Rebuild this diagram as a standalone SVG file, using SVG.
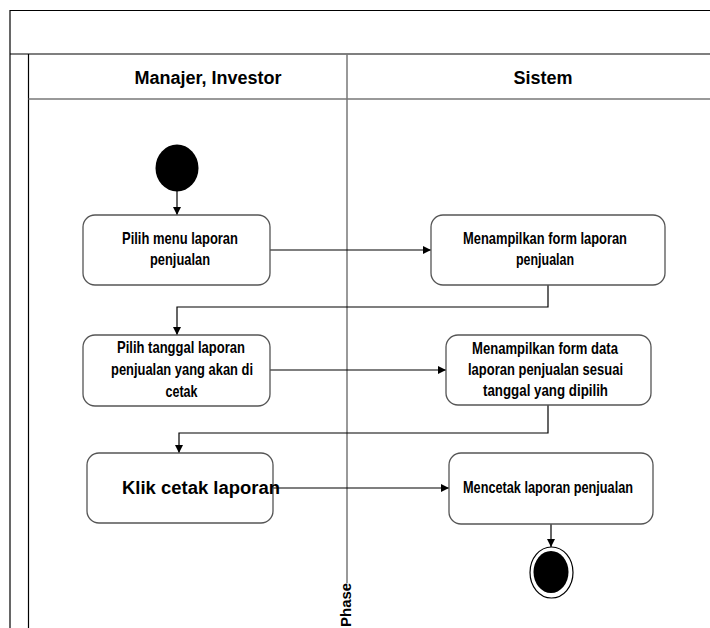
<svg xmlns="http://www.w3.org/2000/svg" width="710" height="628" viewBox="0 0 710 628">
  <defs>
    <style>
      .frame { stroke: #000; stroke-width: 1.2; fill: none; }
      .lane { stroke: #777; stroke-width: 1.5; fill: none; }
      .act { fill: #fff; stroke: #555; stroke-width: 1.3; }
      .lbl { font-family: "Liberation Sans Narrow", "Liberation Sans", Arial, sans-serif; font-weight: bold; font-size: 17px; fill: #000; text-anchor: middle; }
      .hdr { font-family: "Liberation Sans", Arial, sans-serif; font-weight: bold; font-size: 18px; fill: #000; text-anchor: middle; }
      .flow { stroke: #000; stroke-width: 1.2; fill: none; marker-end: url(#arrow); }
    </style>
    <marker id="arrow" viewBox="0 0 10 10" refX="10" refY="5" markerWidth="8" markerHeight="8" markerUnits="userSpaceOnUse" orient="auto">
      <path d="M0,0 L10,5 L0,10 z" fill="#000"/>
    </marker>
  </defs>

  <!-- pool frame and swimlanes -->
  <g id="pool">
    <line class="frame" x1="10" y1="10.5" x2="710" y2="10.5"/>
    <line class="frame" x1="10" y1="10" x2="10" y2="628"/>
    <line class="frame" x1="10" y1="54" x2="710" y2="54"/>
    <line class="frame" x1="28.5" y1="54" x2="28.5" y2="628"/>
    <line class="lane" x1="28.5" y1="99" x2="710" y2="99"/>
    <line class="lane" x1="347" y1="54" x2="347" y2="583"/>
    <text class="hdr" x="208" y="84">Manajer, Investor</text>
    <text class="hdr" x="543" y="84">Sistem</text>
    <text font-family="Liberation Sans, Arial, sans-serif" font-weight="bold" font-size="15" transform="translate(350.5,627) rotate(-90)">Phase</text>
  </g>

  <!-- connectors -->
  <g id="connectors">
    <line class="flow" x1="177" y1="191" x2="177" y2="215"/>
    <line class="flow" x1="270" y1="250" x2="431" y2="250"/>
    <polyline class="flow" points="548,285 548,307 177,307 177,335"/>
    <line class="flow" x1="270" y1="370" x2="446" y2="370"/>
    <polyline class="flow" points="548,405 548,433 179,433 179,453"/>
    <line class="flow" x1="273" y1="488" x2="449" y2="488"/>
    <line class="flow" x1="551" y1="524" x2="551" y2="547"/>
  </g>

  <!-- start -->
  <g id="start">
    <ellipse cx="177" cy="168" rx="21.5" ry="23.5" fill="#000"/>
  </g>

  <g id="pilih-menu">
    <rect class="act" x="83" y="215" width="187" height="70" rx="12"/>
    <text class="lbl" x="180" y="244" textLength="116" lengthAdjust="spacingAndGlyphs">Pilih menu laporan</text>
    <text class="lbl" x="180" y="265" textLength="60" lengthAdjust="spacingAndGlyphs">penjualan</text>
  </g>

  <g id="tampil-form">
    <rect class="act" x="431" y="215" width="234" height="70" rx="12"/>
    <text class="lbl" x="545" y="244" textLength="164" lengthAdjust="spacingAndGlyphs">Menampilkan form laporan</text>
    <text class="lbl" x="545" y="265" textLength="58" lengthAdjust="spacingAndGlyphs">penjualan</text>
  </g>

  <g id="pilih-tanggal">
    <rect class="act" x="83" y="335" width="187" height="71" rx="12"/>
    <text class="lbl" x="181" y="353" textLength="128" lengthAdjust="spacingAndGlyphs">Pilih tanggal laporan</text>
    <text class="lbl" x="182" y="375" textLength="142" lengthAdjust="spacingAndGlyphs">penjualan yang akan di</text>
    <text class="lbl" x="181.5" y="397" textLength="32" lengthAdjust="spacingAndGlyphs">cetak</text>
  </g>

  <g id="tampil-data">
    <rect class="act" x="446" y="335" width="205" height="70" rx="12"/>
    <text class="lbl" x="545" y="354" textLength="146" lengthAdjust="spacingAndGlyphs">Menampilkan form data</text>
    <text class="lbl" x="545.5" y="375" textLength="155" lengthAdjust="spacingAndGlyphs">laporan penjualan sesuai</text>
    <text class="lbl" x="545.5" y="396" textLength="125" lengthAdjust="spacingAndGlyphs">tanggal yang dipilih</text>
  </g>

  <g id="klik-cetak">
    <rect class="act" x="87" y="453" width="186" height="70" rx="12"/>
    <text x="122" y="494" font-family="Liberation Sans, Arial, sans-serif" font-weight="bold" font-size="18" textLength="158" lengthAdjust="spacingAndGlyphs">Klik cetak laporan</text>
  </g>

  <g id="cetak-laporan">
    <rect class="act" x="449" y="453" width="204" height="71" rx="12"/>
    <text class="lbl" x="548" y="493" textLength="170" lengthAdjust="spacingAndGlyphs">Mencetak laporan penjualan</text>
  </g>

  <!-- end -->
  <g id="end">
    <ellipse cx="551.5" cy="572.5" rx="21.5" ry="25.5" fill="#fff" stroke="#000" stroke-width="1.2"/>
    <ellipse cx="551" cy="572" rx="17.5" ry="21" fill="#000"/>
  </g>
</svg>
